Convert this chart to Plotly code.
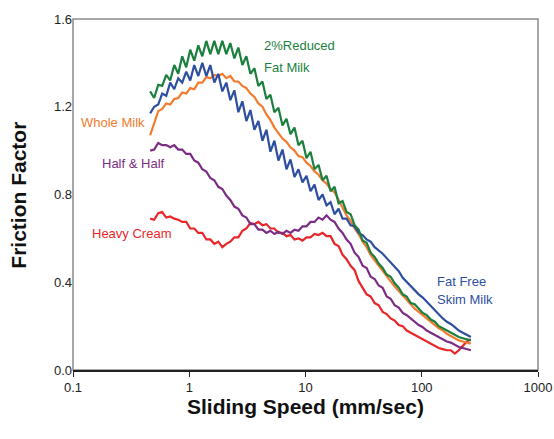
import math
import plotly.graph_objects as go

speed = [0.461, 0.499, 0.541, 0.585, 0.634, 0.686, 0.743, 0.804, 0.870, 0.942,
         1.020, 1.104, 1.196, 1.295, 1.402, 1.517, 1.643, 1.778, 1.925, 2.084,
         2.256, 2.443, 2.645, 2.864, 3.100, 3.357, 3.634, 3.935, 4.26, 4.61,
         4.99, 5.40, 5.85, 6.34, 6.86, 7.43, 8.04, 8.70, 9.42, 10.2,
         11.04, 11.96, 12.95, 14.02, 15.17, 16.43, 17.78, 19.25, 20.84, 22.56,
         24.43, 26.45, 28.64, 31.0, 33.57, 36.34, 39.35, 42.6, 46.1, 49.9,
         54.0, 58.5, 63.4, 68.6, 74.3, 80.4, 87.0, 94.2, 102, 110.4,
         119.6, 129.5, 140.2, 151.7, 164.3, 177.8, 192.5, 208.4, 225.6, 244.3, 264.5]

reduced_fat = [1.27, 1.24, 1.30, 1.295, 1.345, 1.32, 1.39, 1.35, 1.43, 1.38,
               1.46, 1.41, 1.48, 1.43, 1.50, 1.44, 1.50, 1.44, 1.50, 1.44,
               1.49, 1.42, 1.47, 1.39, 1.43, 1.35, 1.375, 1.295, 1.315, 1.235,
               1.255, 1.175, 1.195, 1.115, 1.145, 1.075, 1.105, 1.025, 1.045, 0.965,
               0.995, 0.915, 0.935, 0.865, 0.885, 0.815, 0.835, 0.76, 0.77, 0.72,
               0.71, 0.66, 0.64, 0.59, 0.58, 0.535, 0.515, 0.485, 0.465, 0.435,
               0.425, 0.395, 0.375, 0.345, 0.335, 0.305, 0.30, 0.28, 0.26, 0.25,
               0.23, 0.22, 0.20, 0.19, 0.18, 0.17, 0.16, 0.15, 0.145, 0.14, 0.135]

skim = [1.17, 1.20, 1.21, 1.26, 1.25, 1.31, 1.28, 1.33, 1.31, 1.36,
        1.32, 1.39, 1.34, 1.40, 1.34, 1.39, 1.31, 1.35, 1.27, 1.31,
        1.23, 1.275, 1.175, 1.225, 1.135, 1.185, 1.095, 1.135, 1.045, 1.095,
        0.995, 1.045, 0.955, 1.005, 0.915, 0.96, 0.88, 0.915, 0.855, 0.885,
        0.815, 0.845, 0.775, 0.80, 0.75, 0.765, 0.71, 0.735, 0.69, 0.69,
        0.66, 0.655, 0.625, 0.615, 0.595, 0.585, 0.56, 0.545, 0.53, 0.51,
        0.49, 0.47, 0.45, 0.42, 0.40, 0.38, 0.36, 0.345, 0.33, 0.31,
        0.29, 0.27, 0.25, 0.235, 0.22, 0.21, 0.195, 0.18, 0.17, 0.16, 0.15]

whole = [1.07, 1.13, 1.18, 1.19, 1.215, 1.21, 1.235, 1.24, 1.265, 1.26,
         1.285, 1.28, 1.31, 1.31, 1.335, 1.33, 1.345, 1.34, 1.35, 1.33,
         1.34, 1.315, 1.315, 1.295, 1.285, 1.26, 1.245, 1.215, 1.20, 1.165,
         1.14, 1.105, 1.08, 1.055, 1.04, 1.015, 1.00, 0.975, 0.97, 0.945,
         0.93, 0.905, 0.89, 0.865, 0.85, 0.825, 0.81, 0.775, 0.745, 0.705,
         0.68, 0.645, 0.62, 0.585, 0.56, 0.525, 0.50, 0.475, 0.45, 0.425,
         0.40, 0.38, 0.36, 0.34, 0.32, 0.30, 0.28, 0.265, 0.25, 0.235,
         0.22, 0.205, 0.19, 0.18, 0.165, 0.155, 0.145, 0.135, 0.13, 0.125, 0.12]

half_half = [1.00, 1.005, 1.035, 1.025, 1.025, 1.015, 1.025, 1.005, 1.005, 0.985,
             0.985, 0.955, 0.945, 0.915, 0.905, 0.875, 0.865, 0.835, 0.825, 0.795,
             0.775, 0.745, 0.735, 0.705, 0.695, 0.665, 0.665, 0.64, 0.64, 0.625,
             0.635, 0.62, 0.63, 0.62, 0.635, 0.625, 0.64, 0.635, 0.655, 0.655,
             0.675, 0.675, 0.695, 0.685, 0.705, 0.685, 0.675, 0.645, 0.625, 0.595,
             0.575, 0.535, 0.515, 0.475, 0.465, 0.425, 0.415, 0.385, 0.375, 0.335,
             0.325, 0.295, 0.285, 0.26, 0.25, 0.235, 0.22, 0.205, 0.195, 0.18,
             0.17, 0.16, 0.15, 0.14, 0.13, 0.125, 0.115, 0.105, 0.10, 0.095, 0.09]

heavy_cream = [0.69, 0.685, 0.715, 0.72, 0.695, 0.70, 0.69, 0.685, 0.675, 0.675,
               0.645, 0.645, 0.625, 0.625, 0.595, 0.595, 0.575, 0.585, 0.56, 0.575,
               0.585, 0.605, 0.605, 0.635, 0.645, 0.67, 0.665, 0.675, 0.66, 0.665,
               0.645, 0.645, 0.625, 0.625, 0.61, 0.615, 0.595, 0.60, 0.59, 0.605,
               0.605, 0.62, 0.615, 0.625, 0.61, 0.61, 0.575, 0.565, 0.525, 0.505,
               0.475, 0.455, 0.405, 0.375, 0.345, 0.335, 0.305, 0.295, 0.265, 0.255,
               0.235, 0.225, 0.205, 0.20, 0.18, 0.17, 0.16, 0.15, 0.14, 0.13,
               0.12, 0.11, 0.10, 0.095, 0.09, 0.09, 0.075, 0.09, 0.11, 0.13, 0.14]

series = [
    ("Heavy Cream", heavy_cream, "#e8262a"),
    ("Half & Half", half_half, "#7b2c84"),
    ("Whole Milk", whole, "#f47a2e"),
    ("Fat Free Skim Milk", skim, "#2e4f9f"),
    ("2%Reduced Fat Milk", reduced_fat, "#1b7f3e"),
]

label_text = ["2%Reduced", "Fat Milk", "Whole Milk", "Half & Half", "Heavy Cream", "Fat Free", "Skim Milk"]
label_x = [4.26, 4.26, 0.43, 0.171, 0.14, 131, 131]
label_y = [1.48, 1.38, 1.126, 0.943, 0.624, 0.405, 0.322]
label_anchor = ["left", "left", "right", "left", "left", "left", "left"]
label_color = ["#1b7f3e", "#1b7f3e", "#f47a2e", "#7b2c84", "#e8262a", "#2e4f9f", "#2e4f9f"]

x_title = "Sliding Speed (mm/sec)"
y_title = "Friction Factor"

fig = go.Figure()
for name, ys, col in series:
    fig.add_trace(go.Scatter(x=speed, y=ys, mode="lines", name=name,
                             line=dict(color=col, width=2.2)))

for t, xv, yv, an, c in zip(label_text, label_x, label_y, label_anchor, label_color):
    fig.add_annotation(x=math.log10(xv), y=yv, text=t, showarrow=False,
                       xanchor=an, yanchor="middle",
                       font=dict(family="Liberation Sans, Arial", size=13, color=c))

fig.add_annotation(xref="paper", yref="paper", x=0.5, y=-0.105, text="<b>" + x_title + "</b>",
                   showarrow=False, xanchor="center", yanchor="middle",
                   font=dict(family="Liberation Sans, Arial", size=21, color="#111"))
fig.add_annotation(xref="paper", yref="paper", x=-0.118, y=0.497, text="<b>" + y_title + "</b>",
                   showarrow=False, xanchor="center", yanchor="middle", textangle=-90,
                   font=dict(family="Liberation Sans, Arial", size=21, color="#111"))

fig.add_shape(type="rect", xref="paper", yref="paper", x0=0, x1=1, y0=0, y1=1,
              line=dict(color="#8a8a8a", width=1.5), layer="below")

fig.update_layout(
    width=554, height=439,
    margin=dict(l=73, r=16, t=19, b=69, autoexpand=False),
    paper_bgcolor="white", plot_bgcolor="white",
    showlegend=False,
    font=dict(family="Liberation Sans, Arial", size=13, color="#222"),
    xaxis=dict(type="log", range=[-1, 3], tickvals=[0.1, 1, 10, 100, 1000],
               ticktext=["0.1", "1", "10", "100", "1000"], automargin=False,
               showgrid=False, zeroline=False, showline=True, linecolor="#222",
               linewidth=1.5, ticks="outside", ticklen=5, tickcolor="#222"),
    yaxis=dict(range=[0, 1.6], tickvals=[0, 0.4, 0.8, 1.2, 1.6], tickformat=".1f",
               automargin=False,
               showgrid=False, zeroline=False, showline=False, ticks=""),
)

fig.write_html("out.html")
